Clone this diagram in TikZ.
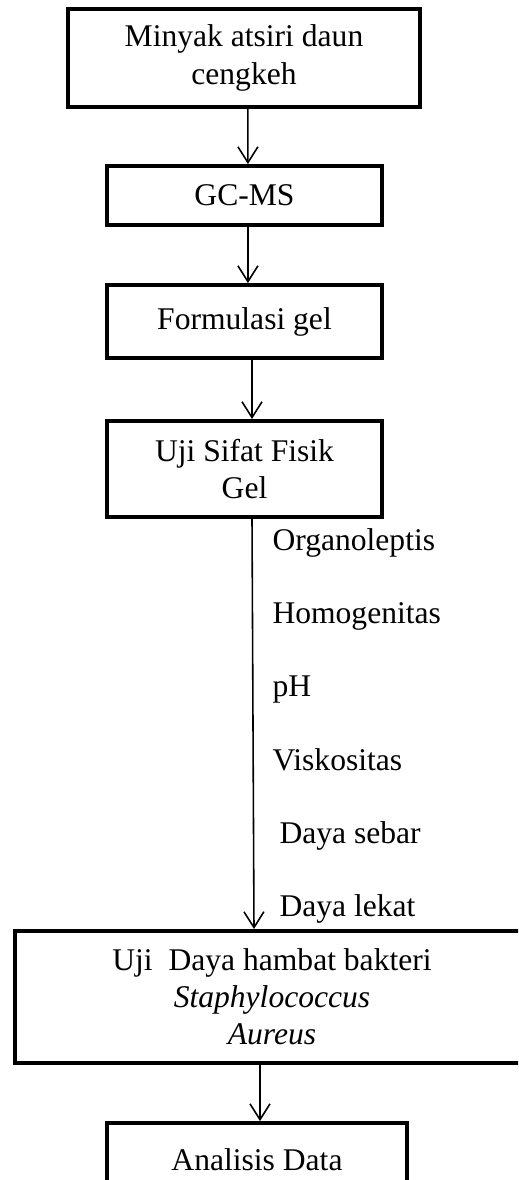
\documentclass[tikz,border=0pt]{standalone}
\usepackage{fontspec}
\setmainfont{Liberation Serif}
\usetikzlibrary{arrows.meta}
\tikzset{
  kotak/.style={draw,line width=1.5pt,align=center,inner sep=0pt,font=\fontsize{12}{14.1}\selectfont},
  panah/.style={-{Straight Barb[length=6pt,width=7.6pt]},line width=0.6pt},
  uji/.style={anchor=base west,inner sep=0pt,font=\fontsize{12}{14.1}\selectfont}
}
\begin{document}
\begin{tikzpicture}[x=0.38pt,y=-0.38pt]
\clip (0,0) rectangle (518,1180);
\node[kotak,minimum width=133.8pt,minimum height=37.2pt] (minyak) at (244,58) {Minyak atsiri daun\\cengkeh};
\node[kotak,minimum width=104.5pt,minimum height=22.4pt] (gcms) at (244.5,195.5) {GC-MS};
\node[kotak,minimum width=104.5pt,minimum height=27.7pt] (formulasi) at (244.5,321.5) {Formulasi gel};
\node[kotak,minimum width=104.5pt,minimum height=36.5pt] (fisik) at (244.5,469) {Uji Sifat Fisik\\Gel};
\node[kotak,minimum width=195.3pt,minimum height=50.2pt] (hambat) at (272,997) {Uji~ Daya hambat bakteri\\\textit{Staphylococcus}\\\textit{Aureus}};
\node[kotak,minimum width=114pt,minimum height=27.7pt] (analisis) at (257,1159.5) {Analisis Data};
\draw[panah] ([xshift=1.5pt]minyak.south) -- ([xshift=1.3pt]gcms.north);
\draw[panah] ([xshift=1.3pt]gcms.south) -- ([xshift=1.3pt]formulasi.north);
\draw[panah] ([xshift=2.85pt]formulasi.south) -- ([xshift=2.85pt]fisik.north);
\draw[panah] ([xshift=2.85pt]fisik.south) -- ([xshift=-6.84pt]hambat.north);
\draw[panah] ([xshift=-4.56pt]hambat.south) -- ([xshift=1.14pt]analisis.north);
\node[uji] (organo) at (272,550) {Organoleptis};
\node[uji] (homogen) at (272,623) {Homogenitas};
\node[uji] (ph) at (272,696) {pH};
\node[uji] (visko) at (272,770) {Viskositas};
\node[uji] (sebar) at (279,843) {Daya sebar};
\node[uji] (lekat) at (279,916) {Daya lekat};
\end{tikzpicture}
\end{document}
